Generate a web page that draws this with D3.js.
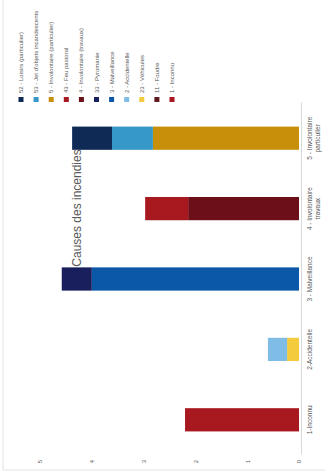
<!DOCTYPE html>
<html><head><meta charset="utf-8">
<script src="https://cdn.jsdelivr.net/npm/d3@7/dist/d3.min.js"></script>
<style>body{margin:0;background:#fff}svg{display:block;font-family:"Liberation Sans",Arial,sans-serif}</style>
</head><body>
<svg id="c" width="325" height="476"></svg>
<script>
const categories = ["1-Inconnu", "2-Accidentelle", "3 - Malveillance", "4 - Involontaire|travaux", "5 - Involontaire|particulier"];
const seriesNames = ["1 - Inconnu", "11 - Foudre", "23 - Véhicules", "2 - Accidentelle", "3 - Malveillance", "33 - Pyromanie", "4 - Involontaire (travaux)", "43 - Feu pastoral", "5 - Involontaire (particulier)", "53 - Jet d'objets incandescents", "52 - Loisirs (particulier)"];
const seriesColors = ["#a8181f", "#5e1a1c", "#f4cb3c", "#80bde6", "#0b58a8", "#191f5c", "#6c0f18", "#a8181f", "#c8900a", "#3698c6", "#0e2a55"];
const s1 = [2.2, 0, 0, 0, 0];
const s2 = [0, 0, 0, 0, 0];
const s3 = [0, 0.23, 0, 0, 0];
const s4 = [0, 0.37, 0, 0, 0];
const s5 = [0, 0, 4.0, 0, 0];
const s6 = [0, 0, 0.58, 0, 0];
const s7 = [0, 0, 0, 2.14, 0];
const s8 = [0, 0, 0, 0.83, 0];
const s9 = [0, 0, 0, 0, 2.82];
const s10 = [0, 0, 0, 0, 0.79];
const s11 = [0, 0, 0, 0, 0.77];
const seriesValues = [s1, s2, s3, s4, s5, s6, s7, s8, s9, s10, s11];
const valueTicks = [0, 1, 2, 3, 4, 5];
const title = "Causes des incendies";

const svg = d3.select("#c");
const W = 476, H = 325;
const g = svg.append("g").attr("transform", `translate(0,${W}) rotate(-90)`);
const grey = "#595959";

// faint chart border
g.append("rect").attr("x", 6).attr("y", 3).attr("width", W).attr("height", H).attr("fill", "none").attr("stroke", "#e3e3e3").attr("stroke-width", 1);

const x = d3.scaleBand().domain(categories).range([21, 373]).paddingInner(0.67).paddingOuter(0.335);
const y = d3.scaleLinear().domain([0, 5]).range([299, 40]);

const table = categories.map((c, i) => {
  const o = {cat: c};
  seriesNames.forEach((s, j) => o[s] = seriesValues[j][i]);
  return o;
});
const stacked = d3.stack().keys(seriesNames)(table);

g.selectAll("g.series").data(stacked).join("g").attr("class", "series")
  .attr("fill", (d, i) => seriesColors[i])
  .selectAll("rect").data(d => d.filter(p => p[1] - p[0] > 0)).join("rect")
  .attr("x", d => x(d.data.cat)).attr("width", x.bandwidth())
  .attr("y", d => y(d[1])).attr("height", d => y(d[0]) - y(d[1]));

// category axis
const xa = g.append("g").attr("transform", `translate(0,${y(0) + 2})`)
  .call(d3.axisBottom(x).tickSize(0).tickFormat(""));
xa.select(".domain").attr("stroke", "#d9d9d9");
categories.forEach(c => {
  const lines = c.split("|");
  const t = g.append("text").attr("x", x(c) + x.bandwidth() / 2).attr("y", y(0) + 13)
    .attr("text-anchor", "middle").attr("font-size", 6.5).attr("fill", grey);
  lines.forEach((l, k) => t.append("tspan").attr("x", x(c) + x.bandwidth() / 2).attr("dy", k ? 8 : 0).text(l));
});

// value axis
const ya = g.append("g").attr("transform", "translate(16,0)")
  .call(d3.axisLeft(y).tickValues(valueTicks).tickSize(0).tickPadding(0).tickFormat(d3.format("d")));
ya.select(".domain").remove();
ya.selectAll("text").attr("font-size", 6).attr("fill", grey).attr("font-family", "Liberation Sans, Arial, sans-serif");

// title
g.append("text").attr("x", 268).attr("y", 81).attr("text-anchor", "middle")
  .attr("font-size", 12).attr("fill", grey).text(title);

// legend (reverse order)
const legendItems = seriesNames.map((n, i) => ({n, c: seriesColors[i]})).reverse();
const lg = g.append("g").attr("transform", "translate(374,0)");
legendItems.forEach((d, i) => {
  const vy = 21 + i * 15.1;
  lg.append("rect").attr("x", 0).attr("y", vy - 2.5).attr("width", 5).attr("height", 5).attr("fill", d.c);
  lg.append("text").attr("x", 9).attr("y", vy + 2).attr("font-size", 6).attr("fill", grey).text(d.n);
});
</script>
</body></html>
